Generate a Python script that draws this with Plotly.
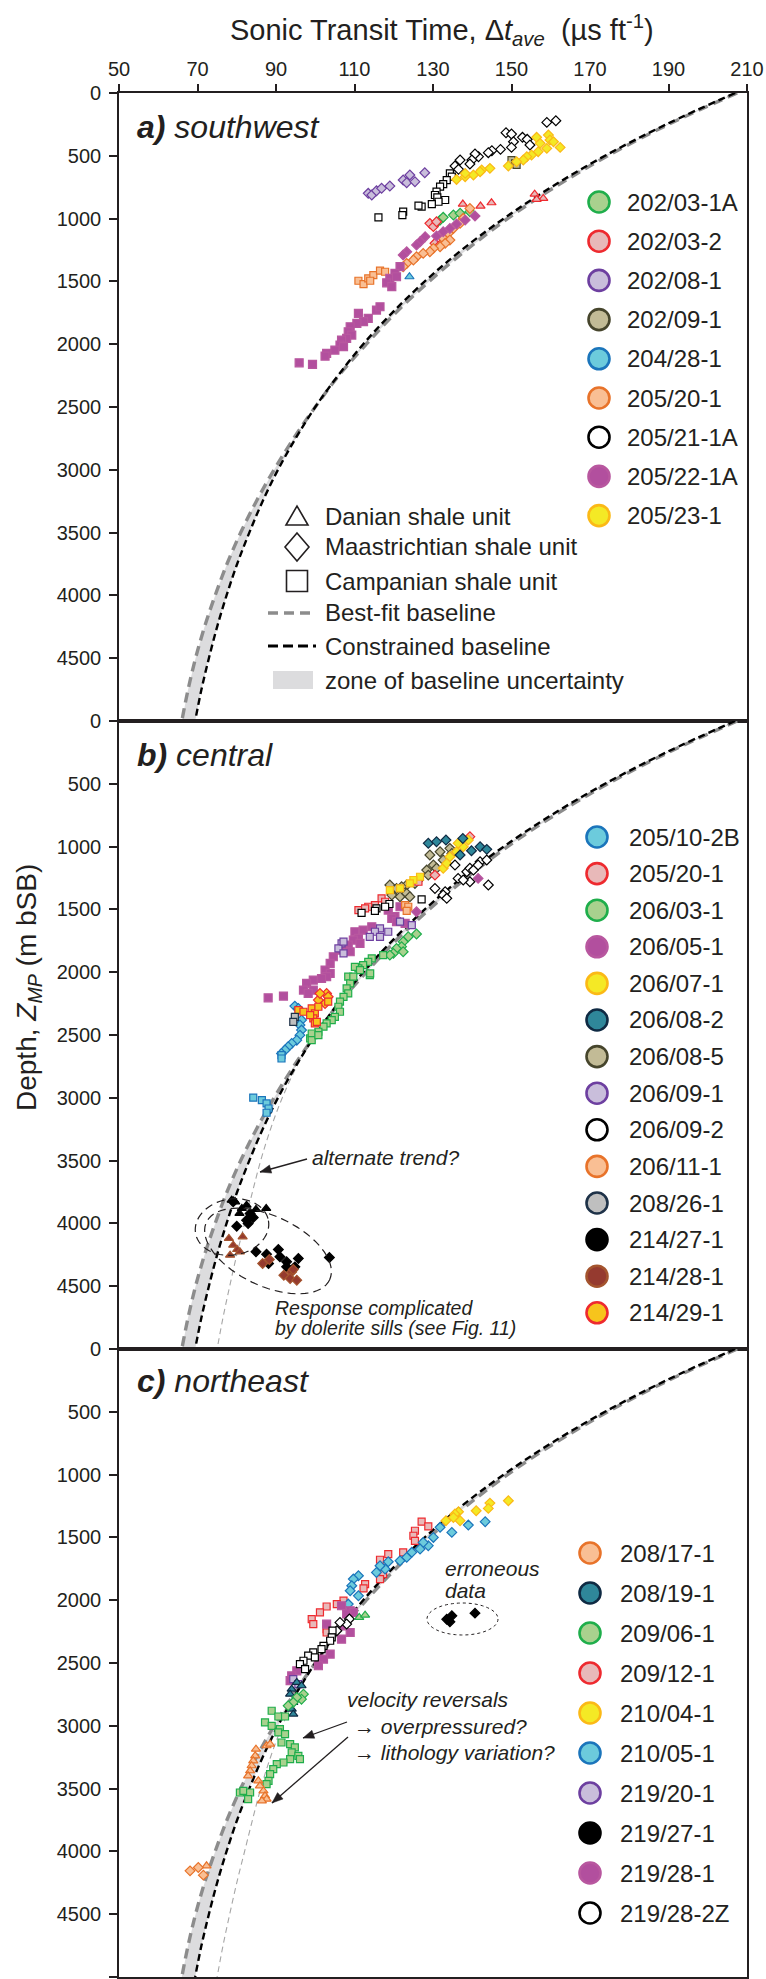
import numpy as np
import plotly.graph_objects as go

# ---------------------------------------------------------------------------
# Figure geometry (pixels)
# ---------------------------------------------------------------------------
W, H = 766, 1979
ML, MR, MT, MB = 119, 19, 93, 2
PW = W - ML - MR
PH = H - MT - MB
INK = "#231f20"
FONT = "Liberation Sans, Arial, Helvetica, sans-serif"


def fx(px):
    """figure pixel x -> paper fraction"""
    return (px - ML) / PW


def fy(py):
    """figure pixel y -> paper fraction"""
    return (H - MB - py) / PH


# ---------------------------------------------------------------------------
# Axes
# ---------------------------------------------------------------------------
X_TICKS = [50, 70, 90, 110, 130, 150, 170, 190, 210]
Y_TICKS_AB = [0, 500, 1000, 1500, 2000, 2500, 3000, 3500, 4000, 4500]
Y_TICKS_C = [0, 500, 1000, 1500, 2000, 2500, 3000, 3500, 4000, 4500, 5000]

# ---------------------------------------------------------------------------
# Baseline trends: depth (m bSB) and transit time (us/ft)
# ---------------------------------------------------------------------------
BASE_Z = [0, 250, 500, 750, 1000, 1250, 1500, 1750, 2000, 2250, 2500,
          2750, 3000, 3250, 3500, 3750, 4000, 4250, 4500, 4750, 5000]
CONSTRAINED_DT = [207.0, 189.4, 173.8, 160.1, 148.0, 137.3, 127.9, 119.6, 112.2,
                  105.8, 100.0, 95.0, 90.5, 86.6, 83.2, 80.1, 77.4, 75.0, 72.9,
                  71.0, 69.4]
BESTFIT_DT = [207.5, 190.0, 174.5, 161.0, 149.0, 138.5, 129.0, 120.5, 113.0,
              106.0, 100.0, 94.5, 89.5, 85.0, 81.0, 77.5, 74.5, 71.8, 69.5,
              67.6, 66.0]
ALT_Z = [2500, 2750, 3000, 3250, 3500, 3750, 4000, 4250, 4500, 4750, 5000]
ALT_DT = [100.0, 95.3, 91.6, 88.6, 86.1, 84.0, 82.0, 80.0, 78.2, 76.5, 75.0]

# ---------------------------------------------------------------------------
# Well colour schemes: (fill, outline)
# ---------------------------------------------------------------------------
STYLE = {
    "green": ("#a9d18e", "#1fae4b"),
    "red": ("#e8b9b9", "#ee2a2f"),
    "lavender": ("#c9bedb", "#6d3fa0"),
    "khaki": ("#c2bb96", "#46452c"),
    "blue": ("#6ccbdc", "#1b75bb"),
    "orange": ("#f9bf94", "#e8732a"),
    "white": ("#ffffff", "#000000"),
    "magenta": ("#b24f9e", "#b8579f"),
    "yellow": ("#f4e925", "#fbb917"),
    "teal": ("#2f879a", "#0f2a43"),
    "grey": ("#bfbfbf", "#1e3248"),
    "black": ("#000000", "#000000"),
    "brown": ("#953a2f", "#a4542e"),
    "goldred": ("#f7c41c", "#ee2a2f"),
}

# shale units: D = Danian, M = Maastrichtian, C = Campanian
UNIT_SYMBOL = {"D": "triangle-up", "M": "diamond", "C": "square"}
UNIT_SIZE = {"D": 8, "M": 7.5, "C": 7}

# ---------------------------------------------------------------------------
# a) southwest  -- (transit time, depth)
# ---------------------------------------------------------------------------
A_202_03_1A_M = ([130.9, 131.8, 132.6, 135.2, 136.9, 139.4],
                 [1033, 1012, 990, 972, 958, 945])
A_202_03_2_D = ([137.6, 142.1, 144.9, 155.9, 158.1, 156.4],
                [884, 900, 874, 805, 839, 847])
A_202_03_2_M = ([129.2, 130.1, 130.9, 130.5, 131.8],
                [1038, 1064, 1025, 1197, 1211])
A_202_08_1_M = ([113.5, 114.4, 115.6, 116.9, 119.0, 122.4, 123.3, 124.1, 125.4, 127.9],
                [799, 812, 778, 759, 741, 693, 714, 653, 706, 635])
A_202_09_1_C = ([150.0, 150.9, 151.3], [534, 560, 573])
A_204_28_1_D = ([124.0], [1463])
A_205_20_1_M = ([139.4, 137.7, 136.9, 135.2, 133.9, 132.6, 134.3, 133.1, 131.8, 130.1,
                 129.2, 127.5, 125.8, 125.0, 123.3, 122.4],
                [919, 998, 1038, 1078, 1118, 1157, 1171, 1197, 1224, 1237,
                 1264, 1277, 1304, 1330, 1357, 1383])
A_205_20_1_C = ([111.0, 112.3, 113.5, 114.8, 116.5, 117.8, 114.0],
                [1495, 1521, 1476, 1450, 1415, 1423, 1495])
A_205_21_1A_M = ([159.0, 161.3, 148.6, 150.0, 152.8, 154.0, 154.7, 150.5, 150.0, 147.2,
                  145.0, 144.1, 141.6, 140.7, 139.9, 139.4, 136.9, 135.6, 136.5],
                 [234, 221, 316, 327, 353, 369, 414, 388, 433, 449,
                  459, 475, 507, 486, 534, 565, 534, 581, 608])
A_205_21_1A_C = ([134.3, 134.8, 133.5, 132.6, 131.8, 130.9, 130.5, 131.1, 133.1, 131.4,
                  129.7, 127.1, 126.3, 122.4, 122.2, 116.1],
                 [640, 666, 693, 725, 746, 786, 812, 831, 852, 866,
                  884, 905, 897, 945, 972, 990])
A_205_22_1A_M = ([140.7, 138.2, 136.0, 134.3, 132.6, 130.9, 128.0, 126.7, 125.8, 123.3, 122.4],
                 [980, 1012, 1043, 1078, 1104, 1139, 1144, 1184, 1211, 1264, 1290])
A_205_22_1A_C = ([121.6, 120.3, 119.0, 118.2, 119.5, 120.7, 115.6, 116.5, 111.0, 113.5,
                  112.3, 110.6, 108.9, 108.4, 109.3, 108.0, 106.7, 106.3, 107.2, 105.0,
                  102.9, 102.5, 99.3, 95.9],
                 [1383, 1436, 1476, 1511, 1542, 1463, 1728, 1702, 1755, 1795,
                  1821, 1834, 1861, 1901, 1927, 1954, 1967, 2007, 2020, 2047,
                  2073, 2095, 2161, 2148])
A_205_23_1_M = ([156.4, 159.4, 159.8, 160.7, 162.4, 159.0, 156.8, 155.1, 153.9, 153.0,
                 151.3, 157.3, 144.5, 142.4, 142.0, 140.3, 138.2, 136.0, 138.2, 149.2],
                [353, 335, 374, 388, 433, 441, 467, 494, 507, 534,
                 547, 401, 600, 613, 627, 653, 666, 688, 640, 581])

# ---------------------------------------------------------------------------
# b) central
# ---------------------------------------------------------------------------
B_205_10_2B_M = ([94.8, 95.7, 96.5, 96.1, 96.5, 96.1, 95.3, 94.0, 93.1, 92.3, 91.4],
                 [2270, 2289, 2381, 2421, 2461, 2501, 2541, 2567, 2594, 2620, 2647])
B_205_10_2B_C = ([91.4, 91.4, 84.2, 86.4, 87.6, 88.1, 87.6],
                 [2660, 2687, 2999, 3018, 3045, 3085, 3119])
B_205_20_1_C = ([116.9, 115.2, 113.5, 111.0, 112.7, 117.8, 126.3],
                [1412, 1466, 1479, 1505, 1492, 1439, 1280])
B_205_20_1_M = ([139.4, 130.5], [921, 1227])
B_206_03_1_M = ([125.8, 123.7, 122.4, 122.0, 120.7, 119.9, 122.4, 119.0],
                [1696, 1718, 1758, 1797, 1811, 1850, 1837, 1864])
B_206_03_1_C = ([117.3, 114.4, 113.5, 112.2, 111.0, 110.1, 113.9, 111.4, 114.0, 108.4,
                 108.9, 108.0, 108.4, 107.2, 106.3, 105.9, 106.3, 105.0, 104.2, 102.9,
                 102.1, 100.8, 99.5, 98.7, 99.1, 99.1, 100.8, 109.7],
                [1864, 1890, 1917, 1943, 1970, 1957, 2023, 1983, 2010, 2036,
                 2089, 2129, 2169, 2196, 2235, 2275, 2315, 2355, 2381, 2408,
                 2434, 2474, 2501, 2527, 2488, 2541, 2501, 2036])
B_206_05_1_C = ([118.6, 120.3, 119.5, 121.6, 120.7, 122.9, 114.4, 112.2, 110.1, 111.0,
                 109.7, 111.4, 108.4, 108.9, 106.3, 104.6, 103.8, 102.5, 103.8, 102.9,
                 101.6, 99.5, 97.8, 97.0, 99.5, 88.0, 91.9, 98.2],
                [1505, 1558, 1572, 1479, 1598, 1612, 1638, 1665, 1678, 1731,
                 1744, 1771, 1784, 1837, 1824, 1877, 1930, 1983, 2010, 2036,
                 2050, 2063, 2089, 2142, 2142, 2204, 2190, 2169])
B_206_05_1_M = ([141.5, 125.8], [1253, 1519])
B_206_07_1_M = ([139.0, 137.7, 136.4, 136.0, 134.3, 132.6, 133.5],
                [948, 1001, 974, 1041, 1081, 1173, 1134])
B_206_07_1_C = ([126.7, 125.0, 124.1, 121.6, 119.0], [1240, 1266, 1293, 1333, 1346])
B_206_08_2_M = ([128.8, 130.9, 133.3, 137.6, 139.8, 142.0, 143.7, 136.9],
                [974, 961, 948, 935, 1033, 1001, 1022, 1067])
B_206_08_5_M = ([129.2, 131.8, 134.3, 134.8, 132.6, 130.1, 130.9, 128.4, 128.8, 126.3,
                 125.4, 123.3, 122.0, 120.7, 119.0, 119.5, 121.6, 123.3, 124.1],
                [1067, 1041, 1014, 1054, 1107, 1147, 1173, 1187, 1227, 1266,
                 1293, 1306, 1319, 1333, 1306, 1386, 1399, 1373, 1399])
B_206_09_1_C = ([116.5, 115.2, 116.5, 118.6, 113.9, 121.6, 124.6, 106.7, 105.9, 107.2, 107.2],
                [1651, 1678, 1718, 1678, 1718, 1598, 1625, 1771, 1811, 1850, 1757])
B_206_09_2_M = ([135.6, 136.4, 138.6, 139.4, 140.3, 142.0, 143.7, 141.5, 139.4, 137.7,
                 133.1, 132.6, 133.5, 130.5, 144.1],
                [1147, 1253, 1200, 1173, 1187, 1120, 1107, 1147, 1280, 1266,
                 1359, 1386, 1412, 1333, 1306])
B_206_09_2_C = ([127.1, 118.9, 117.8, 115.6, 115.2, 111.8],
                [1420, 1457, 1479, 1492, 1511, 1527])
B_206_11_1_C = ([122.9, 123.7, 123.3], [1466, 1479, 1511])
B_208_26_1_C = ([94.8, 94.4], [2355, 2395])
B_214_27_1_D = ([78.7, 79.6, 82.5, 81.3, 84.9, 87.5, 80.7],
                [3815, 3828, 3855, 3881, 3889, 3881, 3921])
B_214_27_1_M = ([79.1, 83.4, 84.2, 82.5, 82.9, 80.0, 84.9, 87.6, 90.6, 91.0,
                 92.7, 95.7, 92.7, 94.8, 88.1, 103.6],
                [3828, 3921, 3953, 3974, 4001, 4022, 4226, 4245, 4208, 4266,
                 4306, 4279, 4346, 4346, 4319, 4272])
B_214_28_1_D = ([78.0, 81.5, 79.1, 80.1, 80.8, 78.3],
                [4120, 4107, 4173, 4208, 4226, 4253])
B_214_28_1_M = ([86.6, 88.3, 92.0, 94.0, 93.6, 95.3, 94.4],
                [4319, 4288, 4412, 4386, 4439, 4452, 4367])
B_214_29_1_M = ([102.9, 103.3, 100.8, 102.5, 101.2], [2169, 2196, 2222, 2249, 2169])
B_214_29_1_C = ([99.1, 99.9, 99.5, 99.9, 95.7, 97.0, 98.7, 100.4, 100.8, 103.3],
                [2288, 2328, 2368, 2408, 2302, 2315, 2342, 2395, 2275, 2235])

# ---------------------------------------------------------------------------
# c) northeast
# ---------------------------------------------------------------------------
C_208_17_1_D = ([84.9, 84.7, 84.2, 83.8, 83.4, 82.9, 85.5, 85.9, 86.8, 87.2,
                 87.6, 86.4, 87.6, 88.5, 72.3],
                [3186, 3239, 3279, 3318, 3358, 3398, 3438, 3478, 3518, 3557,
                 3584, 3597, 3159, 3146, 4115])
C_208_17_1_M = ([68.1, 70.2, 71.5], [4155, 4128, 4189])
C_208_19_1_D = ([95.3, 94.0, 93.6, 94.4, 94.0, 94.4, 96.5],
                [2655, 2708, 2748, 2814, 2867, 2907, 2681])
C_209_06_1_D = ([111.2, 112.7], [2137, 2119])
C_209_06_1_M = ([97.0, 96.5, 95.3, 94.4, 93.1], [2748, 2788, 2774, 2814, 2841])
C_209_06_1_C = ([88.9, 90.6, 92.3, 87.2, 88.9, 91.0, 90.6, 92.3, 91.4, 93.6,
                 94.8, 94.0, 95.7, 96.1, 93.6, 91.9, 90.2, 89.3, 88.5, 88.1,
                 87.6, 80.8, 81.7, 83.4, 82.9],
                [2880, 2926, 2926, 2973, 3000, 3026, 3053, 3066, 3133, 3146,
                 3172, 3212, 3239, 3265, 3265, 3292, 3305, 3345, 3385, 3438,
                 3464, 3531, 3518, 3531, 3584])
C_209_12_1_C = ([127.1, 128.8, 125.4, 125.0, 125.4, 122.4, 118.6, 116.5, 117.3, 116.5,
                 112.7, 112.3, 107.2, 105.5, 102.9, 101.2, 99.1, 99.5, 102.9, 102.9],
                [1375, 1412, 1447, 1487, 1527, 1619, 1633, 1678, 1792, 1832,
                 1872, 1906, 2004, 2031, 2050, 2097, 2151, 2190, 2230, 2257])
C_210_04_1_M = ([149.2, 144.5, 144.1, 141.0, 136.5, 135.6, 136.9, 133.3, 135.2],
                [1208, 1227, 1269, 1288, 1296, 1314, 1367, 1367, 1341])
C_210_05_1_M = ([143.3, 139.0, 134.8, 131.8, 130.1, 128.8, 127.5, 126.7, 124.6, 123.3,
                 121.6, 118.6, 117.8, 116.5, 115.6, 111.0, 109.7, 109.3, 108.9, 111.0, 108.4],
                [1375, 1402, 1460, 1420, 1500, 1566, 1540, 1593, 1619, 1659,
                 1686, 1694, 1752, 1726, 1779, 1805, 1832, 1885, 1925, 1965, 2031])
C_219_20_1_C = ([94.4, 95.7], [2628, 2668])
C_219_27_1_M = ([133.5, 134.8, 134.3, 140.7], [2151, 2124, 2172, 2103])
C_219_28_1_C = ([106.7, 108.9, 107.2, 108.9, 102.9, 106.7, 103.8, 102.1, 100.8, 95.3,
                 94.0, 93.6, 109.7, 108.0],
                [2044, 2084, 2204, 2257, 2190, 2310, 2429, 2469, 2522, 2562,
                 2602, 2641, 2097, 2110])
C_219_28_2Z_M = ([108.7, 108.0, 106.3, 105.5], [2150, 2190, 2177, 2243])
C_219_28_2Z_C = ([104.4, 104.2, 103.8, 102.1, 101.6, 99.5, 98.2, 97.0, 96.1, 97.4, 99.9],
                 [2243, 2296, 2323, 2363, 2389, 2416, 2442, 2482, 2509, 2549, 2456])

# (well, colour scheme, shale unit, data)
PANEL_A = [
    ("202/03-1A", "green", "M", A_202_03_1A_M),
    ("202/03-2", "red", "D", A_202_03_2_D),
    ("202/03-2", "red", "M", A_202_03_2_M),
    ("202/08-1", "lavender", "M", A_202_08_1_M),
    ("202/09-1", "khaki", "C", A_202_09_1_C),
    ("204/28-1", "blue", "D", A_204_28_1_D),
    ("205/20-1", "orange", "M", A_205_20_1_M),
    ("205/20-1", "orange", "C", A_205_20_1_C),
    ("205/21-1A", "white", "M", A_205_21_1A_M),
    ("205/21-1A", "white", "C", A_205_21_1A_C),
    ("205/22-1A", "magenta", "M", A_205_22_1A_M),
    ("205/22-1A", "magenta", "C", A_205_22_1A_C),
    ("205/23-1", "yellow", "M", A_205_23_1_M),
]
PANEL_B = [
    ("206/08-5", "khaki", "M", B_206_08_5_M),
    ("206/05-1", "magenta", "C", B_206_05_1_C),
    ("206/05-1", "magenta", "M", B_206_05_1_M),
    ("206/09-1", "lavender", "C", B_206_09_1_C),
    ("206/03-1", "green", "M", B_206_03_1_M),
    ("206/03-1", "green", "C", B_206_03_1_C),
    ("205/20-1", "red", "C", B_205_20_1_C),
    ("205/20-1", "red", "M", B_205_20_1_M),
    ("206/07-1", "yellow", "M", B_206_07_1_M),
    ("206/07-1", "yellow", "C", B_206_07_1_C),
    ("206/08-2", "teal", "M", B_206_08_2_M),
    ("206/09-2", "white", "M", B_206_09_2_M),
    ("206/09-2", "white", "C", B_206_09_2_C),
    ("206/11-1", "orange", "C", B_206_11_1_C),
    ("205/10-2B", "blue", "M", B_205_10_2B_M),
    ("205/10-2B", "blue", "C", B_205_10_2B_C),
    ("214/29-1", "goldred", "M", B_214_29_1_M),
    ("214/29-1", "goldred", "C", B_214_29_1_C),
    ("208/26-1", "grey", "C", B_208_26_1_C),
    ("214/27-1", "black", "D", B_214_27_1_D),
    ("214/27-1", "black", "M", B_214_27_1_M),
    ("214/28-1", "brown", "D", B_214_28_1_D),
    ("214/28-1", "brown", "M", B_214_28_1_M),
]
PANEL_C = [
    ("209/12-1", "red", "C", C_209_12_1_C),
    ("210/05-1", "blue", "M", C_210_05_1_M),
    ("210/04-1", "yellow", "M", C_210_04_1_M),
    ("219/28-1", "magenta", "C", C_219_28_1_C),
    ("219/28-2Z", "white", "M", C_219_28_2Z_M),
    ("219/28-2Z", "white", "C", C_219_28_2Z_C),
    ("219/20-1", "lavender", "C", C_219_20_1_C),
    ("208/19-1", "teal", "D", C_208_19_1_D),
    ("209/06-1", "green", "D", C_209_06_1_D),
    ("209/06-1", "green", "M", C_209_06_1_M),
    ("209/06-1", "green", "C", C_209_06_1_C),
    ("208/17-1", "orange", "D", C_208_17_1_D),
    ("208/17-1", "orange", "M", C_208_17_1_M),
    ("219/27-1", "black", "M", C_219_27_1_M),
]

LEGEND_A = [("202/03-1A", "green"), ("202/03-2", "red"), ("202/08-1", "lavender"),
            ("202/09-1", "khaki"), ("204/28-1", "blue"), ("205/20-1", "orange"),
            ("205/21-1A", "white"), ("205/22-1A", "magenta"), ("205/23-1", "yellow")]
LEGEND_B = [("205/10-2B", "blue"), ("205/20-1", "red"), ("206/03-1", "green"),
            ("206/05-1", "magenta"), ("206/07-1", "yellow"), ("206/08-2", "teal"),
            ("206/08-5", "khaki"), ("206/09-1", "lavender"), ("206/09-2", "white"),
            ("206/11-1", "orange"), ("208/26-1", "grey"), ("214/27-1", "black"),
            ("214/28-1", "brown"), ("214/29-1", "goldred")]
LEGEND_C = [("208/17-1", "orange"), ("208/19-1", "teal"), ("209/06-1", "green"),
            ("209/12-1", "red"), ("210/04-1", "yellow"), ("210/05-1", "blue"),
            ("219/20-1", "lavender"), ("219/27-1", "black"), ("219/28-1", "magenta"),
            ("219/28-2Z", "white")]

UNIT_LEGEND = ["Danian shale unit", "Maastrichtian shale unit", "Campanian shale unit"]
LINE_LEGEND = ["Best-fit baseline", "Constrained baseline", "zone of baseline uncertainty"]

# ---------------------------------------------------------------------------
fig = go.Figure()

PANELS = [("x", "y", PANEL_A, False), ("x2", "y2", PANEL_B, True), ("x3", "y3", PANEL_C, True)]

for xa, ya, wells, show_alt in PANELS:
    # zone of baseline uncertainty between the two trends
    fig.add_trace(go.Scatter(
        x=BESTFIT_DT + CONSTRAINED_DT[::-1], y=BASE_Z + BASE_Z[::-1],
        xaxis=xa, yaxis=ya, mode="lines", fill="toself", fillcolor="#dcdcde",
        line=dict(width=0), hoverinfo="skip", showlegend=False))
    if show_alt:
        fig.add_trace(go.Scatter(
            x=ALT_DT, y=ALT_Z, xaxis=xa, yaxis=ya, mode="lines",
            line=dict(color="#a6a6a6", width=1.1, dash="6px,4px", shape="spline"),
            hoverinfo="skip", showlegend=False))
    fig.add_trace(go.Scatter(
        x=BESTFIT_DT, y=BASE_Z, xaxis=xa, yaxis=ya, mode="lines",
        line=dict(color="#8c8c8c", width=3.4, dash="10px,6px", shape="spline"),
        name="Best-fit baseline", showlegend=False))
    fig.add_trace(go.Scatter(
        x=CONSTRAINED_DT, y=BASE_Z, xaxis=xa, yaxis=ya, mode="lines",
        line=dict(color="#000000", width=2.4, dash="7px,4px", shape="spline"),
        name="Constrained baseline", showlegend=False))
    for well, sty, unit, (dt, z) in wells:
        fill, edge = STYLE[sty]
        size = UNIT_SIZE[unit]
        if sty == "magenta" and unit == "C":
            size = 8
        fig.add_trace(go.Scatter(
            x=dt, y=z, xaxis=xa, yaxis=ya, mode="markers", name=well,
            marker=dict(symbol=UNIT_SYMBOL[unit], size=size, color=fill,
                        line=dict(color=edge, width=1.2)),
            showlegend=False))

# ---------------------------------------------------------------------------
# Axes layout
# ---------------------------------------------------------------------------
tickfont = dict(family=FONT, size=20, color=INK)
frame = dict(showline=True, linecolor=INK, linewidth=1.6, mirror=True,
             showgrid=False, zeroline=False, fixedrange=True)
doms = [[2 / 3, 1.0], [1 / 3, 2 / 3], [0.0, 1 / 3]]
for i, suffix in enumerate(["", "2", "3"]):
    xa = dict(domain=[0, 1], range=[50, 210], anchor="y" + suffix, **frame)
    if i == 0:
        xa.update(side="top", tickmode="array", tickvals=X_TICKS, ticks="outside",
                  ticklen=7, tickwidth=1.5, tickcolor=INK, tickfont=tickfont)
    else:
        xa.update(showticklabels=False, ticks="")
    ya = dict(domain=doms[i], range=[5000, 0], anchor="x" + suffix,
              tickmode="array", tickvals=Y_TICKS_C if i == 2 else Y_TICKS_AB,
              ticks="outside", ticklen=8, tickwidth=1.5, tickcolor=INK,
              tickfont=tickfont, ticklabelstandoff=4, **frame)
    fig.layout["xaxis" + suffix] = xa
    fig.layout["yaxis" + suffix] = ya

annotations = []
shapes = []


def text(px, py, s, size, anchor="left", angle=0, italic=False):
    if italic:
        s = "<i>" + s + "</i>"
    annotations.append(dict(
        x=fx(px), y=fy(py), xref="paper", yref="paper", text=s, showarrow=False,
        xanchor=anchor, yanchor="middle", textangle=angle,
        font=dict(family=FONT, size=size, color=INK)))


# axis titles
text(442, 30, "Sonic Transit Time, Δ<i>t</i><sub><i>ave</i></sub>\u00a0\u00a0(µs ft<sup>-1</sup>)",
     29, anchor="center")
text(29, 988, "Depth, <i>Z</i><sub><i>MP</i></sub> (m bSB)", 28, anchor="center", angle=-90)

# panel labels
text(135, 127, "<b><i>a)</i></b> <i>southwest</i>", 32)
text(135, 755, "<b><i>b)</i></b> <i>central</i>", 32)
text(135, 1381, "<b><i>c)</i></b> <i>northeast</i>", 32)


def circle_key(px, py, sty, r=10.5):
    fill, edge = STYLE[sty]
    shapes.append(dict(
        type="circle", xref="paper", yref="paper", xsizemode="pixel", ysizemode="pixel",
        xanchor=fx(px), yanchor=fy(py), x0=-r, x1=r, y0=-r, y1=r,
        fillcolor=fill, line=dict(color=edge, width=2.6), layer="above"))


for legend, mx, tx, y0, dy in [(LEGEND_A, 599, 625, 202, 39.2),
                               (LEGEND_B, 597, 627, 837, 36.6),
                               (LEGEND_C, 590, 618, 1553, 40.0)]:
    for k, (name, sty) in enumerate(legend):
        yy = y0 + k * dy
        circle_key(mx, yy, sty)
        text(tx, yy, name, 24)

# shale unit keys
UNIT_PATHS = ["M -11,-8 L 11,-8 L 0,11 Z",
              "M 0,14 L 12,0 L 0,-14 L -12,0 Z",
              "M -10.5,-10.5 L 10.5,-10.5 L 10.5,10.5 L -10.5,10.5 Z"]
for k, (label, path) in enumerate(zip(UNIT_LEGEND, UNIT_PATHS)):
    yy = [517, 547, 581][k]
    shapes.append(dict(type="path", xref="paper", yref="paper", xsizemode="pixel",
                       ysizemode="pixel", xanchor=fx(297), yanchor=fy(yy), path=path,
                       fillcolor="white", line=dict(color=INK, width=1.6)))
    text(323, yy, label, 24)

# baseline keys
shapes.append(dict(type="line", xref="paper", yref="paper", x0=fx(268), x1=fx(316),
                   y0=fy(613), y1=fy(613), line=dict(color="#8c8c8c", width=3.4, dash="10px,6px")))
shapes.append(dict(type="line", xref="paper", yref="paper", x0=fx(268), x1=fx(316),
                   y0=fy(646), y1=fy(646), line=dict(color="#000000", width=3, dash="10px,5px")))
shapes.append(dict(type="rect", xref="paper", yref="paper", x0=fx(273), x1=fx(313),
                   y0=fy(671), y1=fy(689), fillcolor="#dcdcde", line=dict(width=0)))
for label, yy in zip(LINE_LEGEND, [612, 646, 680]):
    text(323, yy, label, 24)


# dashed ellipses round groups of points
def ellipse(cx, cy, rx, ry, ang, dash, width=1.2, n=72):
    t = np.linspace(0, 2 * np.pi, n)
    a = np.radians(ang)
    ex, ey = rx * np.cos(t), ry * np.sin(t)
    px = cx + ex * np.cos(a) - ey * np.sin(a)
    py = cy + ex * np.sin(a) + ey * np.cos(a)
    pts = [f"{fx(u):.5f},{fy(v):.5f}" for u, v in zip(px, py)]
    shapes.append(dict(type="path", xref="paper", yref="paper",
                       path="M " + " L ".join(pts) + " Z",
                       line=dict(color=INK, width=width, dash=dash)))


ellipse(232, 1227, 37, 28, -10, "8px,5px")
ellipse(268, 1251, 68, 35, 25, "8px,5px")
ellipse(462.5, 1619, 35.5, 16, 0, "3px,3px", width=1.0)

# annotation texts
text(310, 1157, "alternate trend?", 21, italic=True)
text(273, 1308, "Response complicated", 19.5, italic=True)
text(273, 1328, "by dolerite sills (see Fig. 11)", 19.5, italic=True)
text(443, 1568, "erroneous", 21, italic=True)
text(443, 1590, "data", 21, italic=True)
text(345, 1699, "velocity reversals", 21, italic=True)
text(352, 1726, "→ overpressured?", 21, italic=True)
text(352, 1752, "→ lithology variation?", 21, italic=True)


# pointer arrows: shaft line plus filled head
def arrow(hx, hy, tx, ty, head=11.0, half=4.2):
    shapes.append(dict(type="line", xref="paper", yref="paper",
                       x0=fx(tx), y0=fy(ty), x1=fx(hx), y1=fy(hy),
                       line=dict(color=INK, width=1.3)))
    ux, uy = hx - tx, hy - ty
    n = np.hypot(ux, uy)
    ux, uy = ux / n, uy / n
    bx, by = hx - head * ux, hy - head * uy
    p1 = (bx - half * uy, by + half * ux)
    p2 = (bx + half * uy, by - half * ux)
    shapes.append(dict(type="path", xref="paper", yref="paper",
                       path=(f"M {fx(hx):.5f},{fy(hy):.5f} L {fx(p1[0]):.5f},{fy(p1[1]):.5f} "
                             f"L {fx(p2[0]):.5f},{fy(p2[1]):.5f} Z"),
                       fillcolor=INK, line=dict(color=INK, width=0.5)))


arrow(260, 1172, 307, 1159)
arrow(303, 1738, 347, 1722)
arrow(272, 1803, 348, 1737)

fig.update_layout(
    width=W, height=H, margin=dict(l=ML, r=MR, t=MT, b=MB, autoexpand=False),
    paper_bgcolor="white", plot_bgcolor="white", showlegend=False,
    font=dict(family=FONT, color=INK), annotations=annotations, shapes=shapes,
    template=None)

fig.write_html("out.html")
